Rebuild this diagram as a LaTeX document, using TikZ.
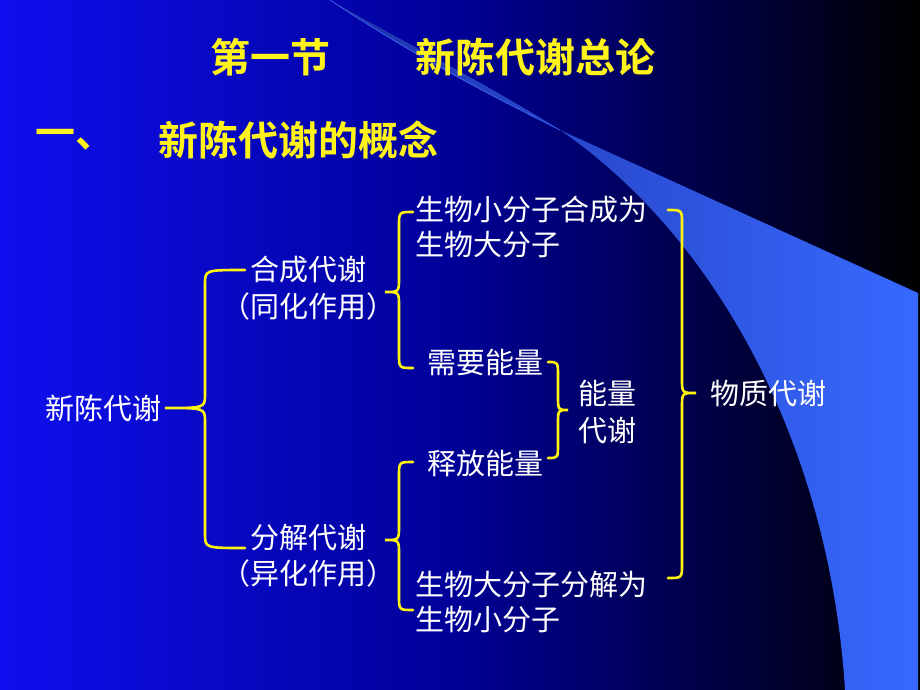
\documentclass[tikz,border=0pt]{standalone}
\usepackage{fontspec}
\newfontfamily\cjk{Noto Sans CJK SC}
\newfontfamily\cjkb{Noto Sans CJK SC Bold}
\definecolor{bgl}{RGB}{15,15,240}
\definecolor{bgm}{RGB}{0,0,150}
\definecolor{wl}{RGB}{30,50,170}
\definecolor{wr}{RGB}{55,105,255}
\definecolor{wline}{RGB}{70,110,255}
\begin{document}
\begin{tikzpicture}[x=1pt,y=-1pt,
  ttl/.style={text=yellow!90!white,font=\cjkb\fontsize{40}{44}\selectfont,inner sep=0},
  body/.style={text=white,font=\cjk\fontsize{29}{32}\selectfont,inner sep=0},
  br/.style={draw=yellow!95!white,line width=2.6pt,line cap=round}]
\newcommand{\mybrace}[5]{% xend xtip y1 ytip y2
  \pgfmathsetmacro{\xm}{(#1+#2)/2}
  \draw[br] (#1,#3) .. controls (\xm,#3) .. (\xm,#3+14) -- (\xm,#4-14)
    .. controls (\xm,#4) .. (#2,#4) .. controls (\xm,#4) .. (\xm,#4+14)
    -- (\xm,#5-14) .. controls (\xm,#5) .. (#1,#5);}
\useasboundingbox (0,0) rectangle (920,690);
\shade[left color=bgl,right color=black,middle color=bgm] (0,0) rectangle (920,690);
\shade[left color=wl,right color=wr]
  (330,0) .. controls (420,60) and (500,100) .. (560,130) -- (918,293) -- (918,690) -- (845,690)
  .. controls (830,450) and (720,240) .. (560,130) .. controls (480,80) and (400,40) .. (330,0);
\draw[wline,line width=0.6pt] (330,0) .. controls (420,60) and (500,100) .. (560,130);
\node[ttl,anchor=west] (t1) at (210,57) {第一节};
\node[ttl,anchor=west] (t2) at (415,57) {新陈代谢总论};
\node[ttl,anchor=west] (s1) at (35,140) {一、};
\node[ttl,anchor=west] (s2) at (158,140) {新陈代谢的概念};
\node[body] (xc) at (103,408) {新陈代谢};
\node[body] (hc) at (308,270) {合成代谢};
\node[body] (th) at (308,306) {（同化作用）};
\node[body] (fj) at (308,538) {分解代谢};
\node[body] (yh) at (308,573) {（异化作用）};
\node[body,anchor=west] (a1) at (415,210) {生物小分子合成为};
\node[body,anchor=west] (a2) at (415,245) {生物大分子};
\node[body] (xy) at (485,362) {需要能量};
\node[body] (sf) at (485,463) {释放能量};
\node[body] (nl) at (607,393) {能量};
\node[body] (dx) at (607,430) {代谢};
\node[body] (wz) at (768,393) {物质代谢};
\node[body,anchor=west] (b1) at (415,585) {生物大分子分解为};
\node[body,anchor=west] (b2) at (415,620) {生物小分子};
\mybrace{245}{165}{270}{408}{548}
\mybrace{413}{385}{212}{292}{368}
\mybrace{413}{385}{462}{540}{610}
\mybrace{548}{568}{362}{410}{458}
\mybrace{668}{696}{210}{393}{578}
\end{tikzpicture}
\end{document}
